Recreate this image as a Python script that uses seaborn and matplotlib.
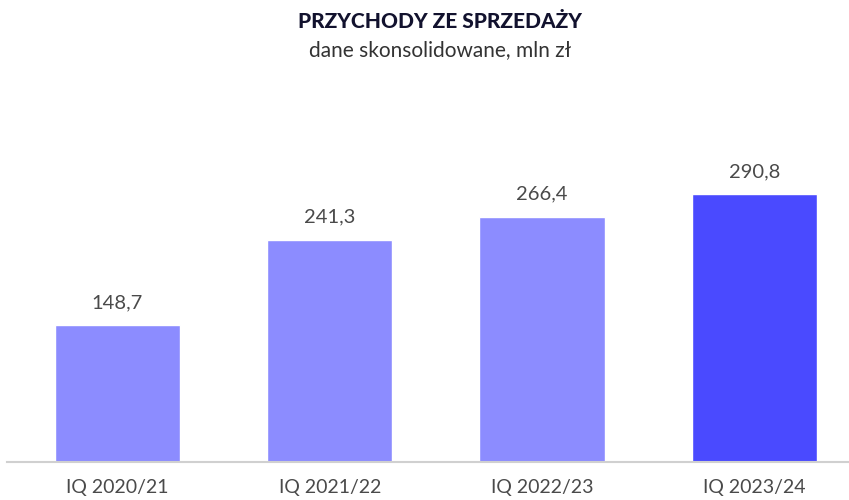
import matplotlib
matplotlib.use("Agg")
import matplotlib.pyplot as plt
import seaborn as sns
import pandas as pd

categories = ["IQ 2020/21", "IQ 2021/22", "IQ 2022/23", "IQ 2023/24"]
values = [148.7, 241.3, 266.4, 290.8]
labels = ["148,7", "241,3", "266,4", "290,8"]
colors = ["#8c8cff", "#8c8cff", "#8c8cff", "#4a4aff"]

sns.set_theme(style="white")
plt.rcParams["font.family"] = ["Lato", "DejaVu Sans"]

df = pd.DataFrame({"okres": categories, "przychody": values})

fig = plt.figure(figsize=(8.49, 5), dpi=100)
ax = fig.add_axes([7 / 849, 38 / 500, 1 - 7 / 849, (462 - 110) / 500])

sns.barplot(data=df, x="okres", y="przychody", hue="okres", palette=colors,
            legend=False, width=0.59, saturation=1, ax=ax)

# etykiety wartosci nad slupkami
for i, (v, lab) in enumerate(zip(values, labels)):
    ax.annotate(lab, (i, v), xytext=(0, 10), textcoords="offset points",
                ha="center", va="bottom", fontsize=14.5, color="#4a4a4a")

ax.set_xlim(-0.52, 3.445)
ax.set_ylim(0, 382)
ax.set_xlabel("")
ax.set_ylabel("")
ax.set_yticks([])
for s in ["top", "right", "left"]:
    ax.spines[s].set_visible(False)
ax.spines["bottom"].set_color("#d0d0d0")
ax.spines["bottom"].set_linewidth(1.5)
ax.tick_params(axis="x", length=0, pad=12, labelsize=14, labelcolor="#4a4a4a")

fig.text(440 / 849, 1 - 22 / 500, "PRZYCHODY ZE SPRZEDAŻY", ha="center", va="center",
         fontsize=15, fontweight="black", color="#12122e")
fig.text(440 / 849, 1 - 50 / 500, "dane skonsolidowane, mln zł", ha="center", va="center",
         fontsize=15, color="#333333")

fig.savefig("out.png", dpi=100)
